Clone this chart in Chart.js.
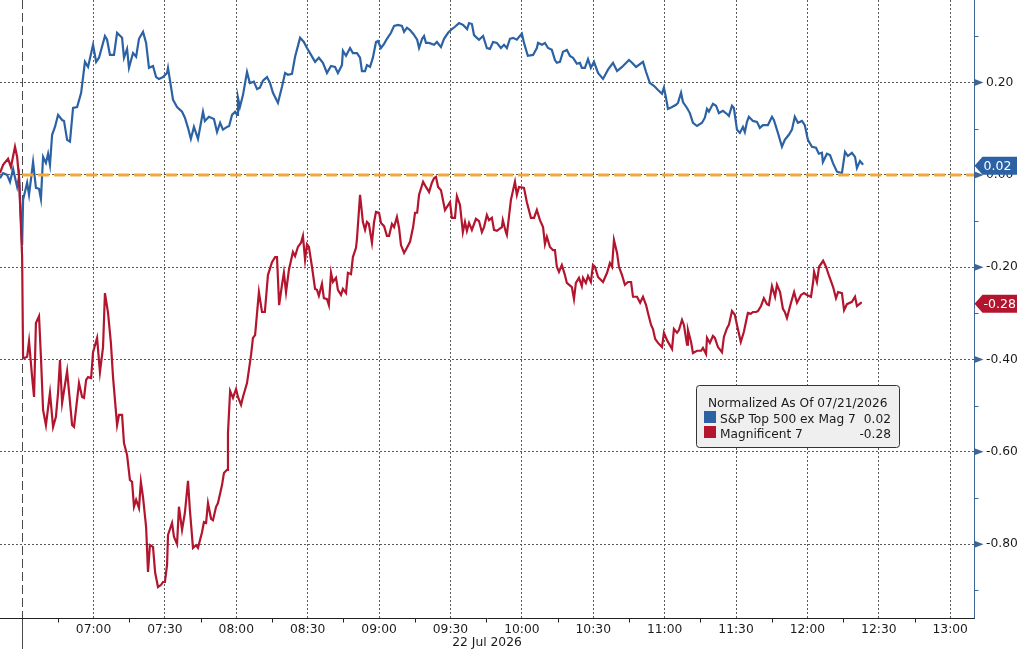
<!DOCTYPE html>
<html>
<head>
<meta charset="utf-8">
<title>S&amp;P Top 500 ex Mag 7 vs Magnificent 7</title>
<script src="https://cdn.jsdelivr.net/npm/chart.js@4.4.1/dist/chart.umd.min.js"></script>
<style>
  html, body { margin: 0; padding: 0; background: #fff; }
  #wrap { width: 1017px; height: 649px; }
</style>
</head>
<body>
<div id="wrap"><canvas id="chart"></canvas></div>
<script>
// times are minutes after the 06:30 open, values are % change normalized to the prior close
const sessionDate = '22 Jul 2026'
const legendTitle = 'Normalized As Of 07/21/2026'
const seriesNames = ['S&P Top 500 ex Mag 7', 'Magnificent 7']

const xTickMinutes = [30, 60, 90, 120, 150, 180, 210, 240, 270, 300, 330, 360, 390]
const xTickLabels = ['07:00', '07:30', '08:00', '08:30', '09:00', '09:30', '10:00', '10:30', '11:00', '11:30', '12:00', '12:30', '13:00']
const xMinorTicks = [15, 45, 75, 105, 135, 165, 195, 225, 255, 285, 315, 345, 375]
const yTicks = [0.2, 0, -0.2, -0.4, -0.6, -0.8]
const yMinorTicks = [0.3, 0.1, -0.1, -0.3, -0.5, -0.7, -0.9]
const openMinute = 0
const zeroLineTimes = [0, 400]
const zeroLineValues = [0, 0]

const blueTimes = [
    -9.3, -8.0, -6.3, -5.1, -3.8, -2.1, -1.3, 0.0, 0.4, 2.1,
    2.9, 4.6, 5.8, 7.1, 7.9, 8.8, 10.0, 10.9, 11.7, 12.6,
    13.8, 15.1, 16.8, 17.6, 18.9, 20.1, 21.4, 23.1, 24.8, 26.4,
    27.7, 29.8, 31.1, 32.3, 34.8, 35.7, 36.9, 38.6, 39.9, 42.0,
    42.8, 44.1, 44.9, 46.6, 47.9, 49.1, 50.8, 52.1, 53.3, 55.0,
    56.3, 57.5, 59.2, 60.9, 61.3, 62.1, 63.4, 65.1, 67.2, 68.4,
    69.7, 70.9, 72.2, 73.9, 76.0, 76.8, 78.5, 80.6, 81.9, 83.2,
    84.4, 86.1, 87.0, 88.2, 89.5, 90.3, 90.7, 91.5, 92.8, 94.5,
    95.7, 97.4, 98.7, 99.9, 101.2, 102.9, 104.2, 105.4, 107.5, 109.2,
    110.5, 111.7, 113.4, 114.7, 116.8, 118.4, 119.7, 121.4, 123.1, 124.7,
    126.4, 128.1, 129.8, 131.5, 132.7, 134.4, 134.8, 136.1, 137.8, 139.0,
    140.7, 142.0, 142.8, 144.1, 144.9, 146.2, 147.4, 148.7, 149.5, 150.8,
    152.1, 153.3, 155.0, 156.3, 158.0, 159.6, 160.5, 161.7, 163.0, 164.3,
    166.0, 166.8, 168.1, 168.9, 169.7, 171.0, 173.1, 174.3, 176.0, 177.3,
    179.0, 180.6, 181.9, 183.6, 185.3, 187.0, 187.8, 189.0, 189.9, 191.1,
    192.0, 193.7, 195.3, 196.6, 197.9, 199.5, 201.2, 202.5, 203.7, 205.0,
    206.3, 207.9, 208.8, 210.0, 210.9, 212.5, 214.7, 216.3, 216.8, 218.5,
    219.7, 221.0, 222.6, 223.9, 224.7, 226.0, 227.3, 228.9, 230.2, 231.5,
    233.1, 234.4, 235.2, 236.5, 237.8, 239.0, 240.3, 242.0, 244.1, 246.2,
    248.3, 250.0, 252.1, 255.0, 256.3, 258.0, 260.9, 262.2, 263.8, 265.5,
    267.2, 268.9, 269.7, 270.5, 271.4, 273.1, 274.8, 275.6, 276.9, 277.7,
    279.4, 280.6, 281.9, 283.6, 285.7, 286.9, 287.8, 288.6, 290.3, 291.6,
    292.8, 294.5, 296.2, 297.0, 298.3, 299.1, 300.4, 301.6, 302.9, 303.7,
    304.6, 305.4, 307.1, 308.8, 310.0, 311.3, 313.4, 315.1, 315.9, 317.6,
    319.3, 320.5, 322.2, 323.5, 324.7, 326.0, 327.7, 328.9, 330.2, 331.9,
    333.6, 334.8, 336.1, 336.5, 338.2, 339.5, 340.7, 342.4, 344.5, 345.8,
    347.0, 348.7, 350.0, 350.8, 352.1, 353.4
]
const blueValues = [
    -0.007, 0.004, 0.000, -0.015, 0.013, -0.026, -0.004, -0.152, -0.054, -0.017,
    -0.043, 0.028, -0.028, -0.030, -0.052, 0.039, 0.026, 0.046, 0.022, 0.087,
    0.104, 0.130, 0.119, 0.117, 0.076, 0.072, 0.145, 0.147, 0.178, 0.245,
    0.234, 0.282, 0.245, 0.254, 0.301, 0.293, 0.260, 0.260, 0.308, 0.297,
    0.254, 0.273, 0.232, 0.264, 0.256, 0.295, 0.310, 0.286, 0.232, 0.236,
    0.212, 0.208, 0.212, 0.221, 0.232, 0.206, 0.163, 0.147, 0.137, 0.124,
    0.102, 0.078, 0.104, 0.078, 0.137, 0.117, 0.126, 0.121, 0.093, 0.113,
    0.098, 0.104, 0.106, 0.130, 0.137, 0.130, 0.167, 0.147, 0.173, 0.223,
    0.199, 0.202, 0.186, 0.189, 0.204, 0.212, 0.199, 0.178, 0.156, 0.191,
    0.221, 0.217, 0.219, 0.256, 0.297, 0.288, 0.275, 0.260, 0.245, 0.254,
    0.243, 0.221, 0.236, 0.234, 0.221, 0.238, 0.269, 0.258, 0.275, 0.264,
    0.264, 0.254, 0.225, 0.225, 0.238, 0.234, 0.254, 0.288, 0.290, 0.275,
    0.284, 0.295, 0.308, 0.323, 0.325, 0.323, 0.310, 0.319, 0.314, 0.306,
    0.293, 0.275, 0.295, 0.301, 0.286, 0.286, 0.282, 0.288, 0.277, 0.295,
    0.308, 0.316, 0.321, 0.329, 0.325, 0.316, 0.329, 0.327, 0.303, 0.297,
    0.293, 0.301, 0.275, 0.273, 0.288, 0.286, 0.275, 0.282, 0.275, 0.295,
    0.297, 0.293, 0.299, 0.306, 0.286, 0.258, 0.260, 0.275, 0.286, 0.282,
    0.286, 0.275, 0.271, 0.249, 0.243, 0.245, 0.267, 0.271, 0.258, 0.254,
    0.241, 0.243, 0.232, 0.232, 0.251, 0.232, 0.245, 0.221, 0.208, 0.228,
    0.243, 0.225, 0.234, 0.249, 0.243, 0.234, 0.245, 0.223, 0.199, 0.193,
    0.184, 0.176, 0.189, 0.169, 0.143, 0.147, 0.152, 0.156, 0.178, 0.158,
    0.145, 0.134, 0.113, 0.106, 0.113, 0.124, 0.143, 0.137, 0.154, 0.150,
    0.134, 0.139, 0.132, 0.128, 0.150, 0.145, 0.098, 0.091, 0.104, 0.093,
    0.115, 0.126, 0.117, 0.115, 0.102, 0.108, 0.108, 0.126, 0.119, 0.091,
    0.061, 0.076, 0.087, 0.098, 0.126, 0.113, 0.117, 0.108, 0.076, 0.061,
    0.059, 0.046, 0.048, 0.028, 0.046, 0.043, 0.026, 0.007, 0.004, 0.050,
    0.041, 0.048, 0.039, 0.015, 0.030, 0.022
]

const redTimes = [
    -9.3, -8.0, -5.9, -4.7, -3.0, -2.1, -1.3, 0.0, 0.4, 0.8,
    2.1, 2.9, 4.2, 5.0, 5.8, 7.1, 7.9, 8.8, 10.0, 11.7,
    13.0, 14.2, 15.1, 15.9, 16.8, 18.9, 21.0, 21.8, 23.9, 25.2,
    26.0, 26.9, 27.7, 29.0, 29.8, 31.5, 32.7, 34.0, 34.8, 36.1,
    37.3, 38.2, 39.9, 40.7, 42.0, 42.8, 44.1, 45.3, 46.2, 47.0,
    47.9, 49.1, 49.9, 50.8, 52.1, 52.9, 53.7, 55.0, 55.9, 57.1,
    58.4, 59.2, 60.0, 60.9, 61.3, 63.0, 63.8, 65.1, 65.9, 67.2,
    68.4, 69.7, 70.5, 71.8, 73.1, 73.9, 75.6, 76.4, 77.3, 78.1,
    79.4, 80.2, 81.5, 82.3, 84.0, 84.8, 86.1, 86.5, 87.4, 88.6,
    89.9, 90.7, 92.0, 92.8, 94.5, 96.2, 97.0, 97.9, 99.5, 100.8,
    102.0, 103.3, 105.0, 106.3, 107.1, 108.0, 109.2, 110.0, 110.9, 112.1,
    113.8, 114.7, 115.9, 117.2, 118.0, 118.9, 119.7, 120.5, 121.8, 123.1,
    123.9, 124.7, 126.0, 126.8, 128.1, 128.9, 129.8, 130.6, 131.9, 132.7,
    134.0, 134.8, 136.1, 136.9, 138.2, 139.0, 140.3, 140.7, 142.0, 143.2,
    144.1, 144.9, 145.7, 147.0, 147.9, 148.7, 150.0, 150.8, 152.1, 153.3,
    154.2, 155.4, 156.3, 157.5, 158.4, 159.2, 160.5, 161.7, 163.0, 164.3,
    165.1, 166.0, 166.8, 168.5, 169.7, 171.0, 172.2, 173.1, 173.9, 174.8,
    176.0, 177.7, 179.8, 180.6, 181.9, 182.7, 184.0, 185.2, 186.1, 186.9,
    187.8, 189.0, 190.7, 192.0, 193.2, 194.1, 195.3, 196.2, 197.4, 198.3,
    199.5, 201.6, 202.0, 203.3, 203.7, 205.4, 207.1, 207.9, 208.8, 210.9,
    212.1, 213.8, 215.1, 216.3, 217.6, 218.9, 219.7, 220.5, 221.8, 223.1,
    223.9, 224.7, 225.6, 226.8, 228.1, 228.9, 231.0, 231.9, 232.7, 234.0,
    235.2, 235.7, 236.9, 237.8, 239.0, 239.9, 240.7, 242.0, 244.1, 245.8,
    247.0, 247.9, 248.7, 250.0, 250.8, 252.1, 253.3, 254.6, 255.9, 256.7,
    258.4, 259.7, 260.9, 262.2, 263.0, 264.3, 265.1, 266.0, 267.2, 268.9,
    269.7, 271.0, 273.1, 273.9, 275.2, 276.0, 277.3, 278.1, 279.4, 279.8,
    281.1, 281.9, 283.6, 285.3, 286.1, 287.4, 287.8, 289.0, 290.3, 291.1,
    292.4, 294.1, 294.9, 296.2, 297.0, 298.3, 299.5, 300.4, 302.0, 303.3,
    304.6, 305.0, 306.2, 307.1, 308.4, 309.2, 310.5, 311.7, 313.0, 313.8,
    315.1, 316.4, 317.2, 318.5, 319.7, 320.5, 321.4, 323.1, 324.4, 325.6,
    327.3, 328.6, 329.8, 331.5, 332.4, 332.8, 334.0, 334.9, 336.6, 337.8,
    339.1, 340.8, 342.0, 342.9, 344.5, 345.4, 346.6, 348.7, 350.0, 350.8,
    352.5, 352.9
]
const redValues = [
    0.004, 0.022, 0.035, 0.017, 0.061, 0.039, -0.007, -0.178, -0.394, -0.397,
    -0.394, -0.360, -0.438, -0.481, -0.321, -0.306, -0.394, -0.509, -0.542, -0.472,
    -0.546, -0.524, -0.472, -0.401, -0.494, -0.425, -0.542, -0.546, -0.451, -0.481,
    -0.483, -0.444, -0.438, -0.440, -0.384, -0.353, -0.427, -0.373, -0.256, -0.299,
    -0.364, -0.438, -0.542, -0.520, -0.520, -0.581, -0.607, -0.661, -0.665, -0.719,
    -0.704, -0.722, -0.665, -0.698, -0.763, -0.860, -0.802, -0.806, -0.862, -0.893,
    -0.888, -0.882, -0.882, -0.845, -0.780, -0.754, -0.784, -0.800, -0.719, -0.769,
    -0.732, -0.663, -0.726, -0.808, -0.802, -0.808, -0.774, -0.752, -0.754, -0.711,
    -0.745, -0.748, -0.719, -0.711, -0.672, -0.646, -0.639, -0.559, -0.468, -0.483,
    -0.464, -0.481, -0.498, -0.481, -0.451, -0.390, -0.353, -0.347, -0.254, -0.297,
    -0.297, -0.217, -0.189, -0.178, -0.178, -0.282, -0.238, -0.212, -0.254, -0.206,
    -0.167, -0.176, -0.156, -0.147, -0.132, -0.184, -0.150, -0.156, -0.199, -0.247,
    -0.249, -0.262, -0.236, -0.267, -0.269, -0.282, -0.212, -0.232, -0.223, -0.249,
    -0.260, -0.247, -0.256, -0.212, -0.215, -0.178, -0.158, -0.139, -0.043, -0.102,
    -0.119, -0.102, -0.106, -0.147, -0.102, -0.080, -0.082, -0.104, -0.111, -0.132,
    -0.132, -0.106, -0.113, -0.091, -0.115, -0.152, -0.169, -0.158, -0.145, -0.113,
    -0.082, -0.082, -0.043, -0.015, -0.026, -0.037, -0.017, -0.007, -0.004, -0.026,
    -0.033, -0.076, -0.059, -0.093, -0.093, -0.046, -0.065, -0.124, -0.102, -0.121,
    -0.104, -0.119, -0.095, -0.100, -0.124, -0.113, -0.087, -0.098, -0.093, -0.119,
    -0.121, -0.113, -0.098, -0.124, -0.130, -0.054, -0.015, -0.043, -0.026, -0.028,
    -0.059, -0.093, -0.093, -0.076, -0.098, -0.113, -0.150, -0.134, -0.156, -0.163,
    -0.163, -0.199, -0.210, -0.195, -0.217, -0.234, -0.243, -0.269, -0.234, -0.223,
    -0.241, -0.223, -0.234, -0.219, -0.232, -0.195, -0.199, -0.221, -0.232, -0.212,
    -0.191, -0.199, -0.141, -0.169, -0.199, -0.217, -0.238, -0.232, -0.232, -0.264,
    -0.264, -0.277, -0.264, -0.282, -0.299, -0.325, -0.334, -0.355, -0.364, -0.373,
    -0.342, -0.358, -0.377, -0.334, -0.342, -0.336, -0.314, -0.325, -0.368, -0.336,
    -0.362, -0.386, -0.381, -0.381, -0.375, -0.388, -0.353, -0.364, -0.349, -0.353,
    -0.373, -0.384, -0.351, -0.332, -0.325, -0.295, -0.303, -0.325, -0.362, -0.340,
    -0.308, -0.299, -0.301, -0.297, -0.297, -0.295, -0.284, -0.267, -0.280, -0.282,
    -0.241, -0.264, -0.238, -0.254, -0.290, -0.297, -0.310, -0.277, -0.254, -0.277,
    -0.260, -0.256, -0.260, -0.264, -0.232, -0.210, -0.232, -0.199, -0.186, -0.199,
    -0.219, -0.243, -0.267, -0.254, -0.256, -0.293, -0.280, -0.275, -0.264, -0.284,
    -0.277, -0.277
]

const blueColor = '#2c62a3'
const redColor = '#b3152e'
const fontFamily = '"DejaVu Sans", Verdana, sans-serif'

Chart.defaults.font.family = fontFamily
Chart.defaults.font.size = 12
Chart.defaults.color = '#1a1a1a'

function toPoints(times, values) {
    return times.map((t, i) => ({x: t, y: values[i]}))
}

function fmt(v) {
    return (Math.abs(v) < 1e-9 ? 0 : v).toFixed(2)
}

const decorations = {
    id: 'decorations',
    beforeDatasetsDraw(chart) {
        const {ctx, chartArea, scales: {x}} = chart
        const px = Math.round(x.getPixelForValue(openMinute)) + 0.5
        ctx.save()
        ctx.strokeStyle = '#4a4a4a'
        ctx.lineWidth = 1
        ctx.setLineDash([9, 4])
        ctx.beginPath()
        ctx.moveTo(px, chartArea.top)
        ctx.lineTo(px, chartArea.bottom)
        ctx.stroke()
        ctx.setLineDash([])
        ctx.beginPath()
        ctx.moveTo(px, chartArea.bottom)
        ctx.lineTo(px, chart.height)
        ctx.stroke()
        ctx.restore()
    },
    afterDraw(chart) {
        const {ctx, chartArea, scales: {x, y}} = chart
        const right = chartArea.right + 0.5
        const bottom = chartArea.bottom + 0.5
        ctx.save()

        // axis lines
        ctx.lineWidth = 1
        ctx.strokeStyle = '#222'
        ctx.beginPath()
        ctx.moveTo(chartArea.left, bottom)
        ctx.lineTo(chartArea.right + 1, bottom)
        ctx.stroke()
        ctx.strokeStyle = '#3f6592'
        ctx.beginPath()
        ctx.moveTo(right, chartArea.top)
        ctx.lineTo(right, bottom)
        ctx.stroke()

        // x minor ticks
        ctx.strokeStyle = '#222'
        xMinorTicks.forEach(m => {
            const px = Math.round(x.getPixelForValue(m)) + 0.5
            ctx.beginPath()
            ctx.moveTo(px, bottom)
            ctx.lineTo(px, bottom + 4)
            ctx.stroke()
        })

        // y ticks: arrows on major, short lines on minor
        ctx.fillStyle = '#3f6592'
        yTicks.forEach(v => {
            const py = y.getPixelForValue(v)
            ctx.beginPath()
            ctx.moveTo(right, py - 3.5)
            ctx.lineTo(right + 9, py)
            ctx.lineTo(right, py + 3.5)
            ctx.closePath()
            ctx.fill()
        })
        ctx.strokeStyle = '#3f6592'
        yMinorTicks.forEach(v => {
            const py = Math.round(y.getPixelForValue(v)) + 0.5
            ctx.beginPath()
            ctx.moveTo(right, py)
            ctx.lineTo(right + 4, py)
            ctx.stroke()
        })

        // last value tags on the axis
        const lasts = [
            {v: blueValues[blueValues.length - 1], color: blueColor},
            {v: redValues[redValues.length - 1], color: redColor}
        ]
        ctx.font = '12.5px ' + fontFamily
        ctx.textBaseline = 'middle'
        ctx.textAlign = 'left'
        lasts.forEach(({v, color}) => {
            const py = y.getPixelForValue(v) + 1
            ctx.fillStyle = color
            ctx.beginPath()
            ctx.moveTo(right, py)
            ctx.lineTo(right + 8, py - 9)
            ctx.lineTo(chart.width, py - 9)
            ctx.lineTo(chart.width, py + 9)
            ctx.lineTo(right + 8, py + 9)
            ctx.closePath()
            ctx.fill()
            ctx.fillStyle = '#fff'
            ctx.fillText(fmt(v), right + 9, py + 0.5)
        })

        // legend box
        const bx = 696.5, by = 385.5, bw = 203, bh = 62
        ctx.fillStyle = '#efefef'
        ctx.strokeStyle = '#333'
        ctx.lineWidth = 1
        ctx.beginPath()
        ctx.roundRect(bx, by, bw, bh, 3)
        ctx.fill()
        ctx.stroke()

        ctx.font = '12.2px ' + fontFamily
        ctx.textBaseline = 'alphabetic'
        ctx.fillStyle = '#1a1a1a'
        ctx.fillText(legendTitle, 708, 407)

        const rows = [
            {name: seriesNames[0], v: blueValues[blueValues.length - 1], color: blueColor, base: 423},
            {name: seriesNames[1], v: redValues[redValues.length - 1], color: redColor, base: 438}
        ]
        rows.forEach(r => {
            ctx.fillStyle = r.color
            ctx.fillRect(704, r.base - 12, 12, 12)
            ctx.fillStyle = '#1a1a1a'
            ctx.textAlign = 'left'
            ctx.fillText(r.name, 720, r.base)
            ctx.textAlign = 'right'
            ctx.fillText(fmt(r.v), 891, r.base)
        })
        ctx.restore()
    }
}

new Chart(document.getElementById('chart'), {
    type: 'line',
    data: {
        datasets: [
            {
                label: 'Zero',
                data: toPoints(zeroLineTimes, zeroLineValues),
                borderColor: '#f2a73b',
                borderWidth: 3,
                borderDash: [11, 5],
                pointRadius: 0,
                order: 0
            },
            {
                label: seriesNames[0],
                data: toPoints(blueTimes, blueValues),
                borderColor: blueColor,
                borderWidth: 2.2,
                pointRadius: 0,
                tension: 0,
                order: 2
            },
            {
                label: seriesNames[1],
                data: toPoints(redTimes, redValues),
                borderColor: redColor,
                borderWidth: 2.2,
                pointRadius: 0,
                tension: 0,
                order: 1
            }
        ]
    },
    options: {
        responsive: true,
        maintainAspectRatio: false,
        animation: false,
        events: [],
        layout: {padding: 0},
        plugins: {
            legend: {display: false},
            tooltip: {enabled: false}
        },
        scales: {
            x: {
                type: 'linear',
                position: 'bottom',
                min: -9.3,
                max: 400,
                afterBuildTicks: scale => {
                    scale.ticks = xTickMinutes.map(v => ({value: v}))
                },
                afterFit: scale => {
                    scale.height = 31
                    scale.paddingLeft = 0
                    scale.paddingRight = 0
                },
                ticks: {
                    autoSkip: false,
                    maxRotation: 0,
                    padding: 4,
                    color: '#1a1a1a',
                    font: {size: 12.3},
                    callback: value => xTickLabels[xTickMinutes.indexOf(value)] || ''
                },
                grid: {
                    color: '#5a5a5a',
                    lineWidth: 1,
                    drawTicks: false
                },
                border: {display: false, dash: [2, 2]},
                title: {
                    display: true,
                    text: sessionDate,
                    color: '#1a1a1a',
                    font: {size: 12.3, lineHeight: 1},
                    padding: {top: 0, bottom: 0}
                }
            },
            y: {
                type: 'linear',
                position: 'right',
                min: -0.96,
                max: 0.379,
                afterBuildTicks: scale => {
                    scale.ticks = yTicks.map(v => ({value: v}))
                },
                afterFit: scale => {
                    scale.width = 43
                    scale.paddingTop = 0
                    scale.paddingBottom = 0
                },
                ticks: {
                    autoSkip: false,
                    padding: 12,
                    color: '#1a1a1a',
                    font: {size: 12.3},
                    callback: value => fmt(value)
                },
                grid: {
                    color: '#5a5a5a',
                    lineWidth: 1,
                    drawTicks: false
                },
                border: {display: false, dash: [2, 2]}
            }
        }
    },
    plugins: [decorations]
})
</script>
</body>
</html>
